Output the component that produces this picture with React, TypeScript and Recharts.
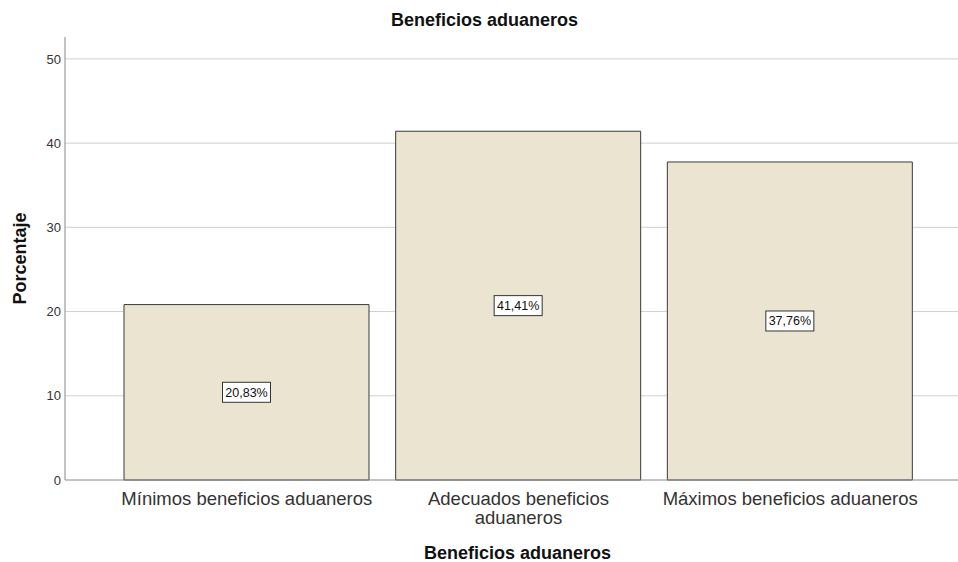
import React from "react";
import { BarChart, Bar, XAxis, YAxis, CartesianGrid, LabelList, Label } from "recharts";

const categories = ["Mínimos beneficios aduaneros", "Adecuados beneficios aduaneros", "Máximos beneficios aduaneros"];
const tickLines = [["Mínimos beneficios aduaneros"], ["Adecuados beneficios", "aduaneros"], ["Máximos beneficios aduaneros"]];
const percentages = [20.83, 41.41, 37.76];
const valueLabels = ["20,83%", "41,41%", "37,76%"];
const yTicks = [0, 10, 20, 30, 40, 50];
const gridValues = [10, 20, 30, 40, 50];

const data = categories.map((name, i) => ({ name, value: percentages[i], label: valueLabels[i] }));

const FONT = "'Liberation Sans', Arial, sans-serif";

function CategoryTick(props: any) {
  const { x, y, payload } = props;
  const lines = tickLines[payload.index] || [payload.value];
  return (
    <text x={x} y={y} textAnchor="middle" fill="#333" fontSize={18.5} fontFamily={FONT}>
      {lines.map((line: string, i: number) => (
        <tspan key={i} x={x} dy={i === 0 ? 17 : 19}>
          {line}
        </tspan>
      ))}
    </text>
  );
}

function ValueBox(props: any) {
  const { x, y, width, height, value } = props;
  const cx = x + width / 2;
  const cy = y + height / 2;
  const w = 48;
  const h = 20;
  return (
    <g>
      <rect x={cx - w / 2} y={cy - h / 2} width={w} height={h} fill="#fff" stroke="#333" strokeWidth={1} />
      <text x={cx} y={cy + 4.5} textAnchor="middle" fontSize={12.5} fontFamily={FONT} fill="#111">
        {value}
      </text>
    </g>
  );
}

export default function App() {
  return (
    <div style={{ position: "absolute", left: 0, top: 0, width: 958, height: 562, background: "#fff", fontFamily: FONT }}>
      <div
        style={{
          position: "absolute",
          top: 10,
          left: 0,
          width: 969,
          textAlign: "center",
          fontWeight: "bold",
          fontSize: 18,
          color: "#111",
        }}
      >
        Beneficios aduaneros
      </div>
      <BarChart width={958} height={562} data={data} margin={{ top: 37, right: 0, left: 0, bottom: 0 }}>
        <CartesianGrid vertical={false} stroke="#cfcfcf" horizontalValues={gridValues} />
        <XAxis
          dataKey="name"
          height={82}
          tickLine={false}
          axisLine={{ stroke: "#888" }}
          padding={{ left: 46, right: 32 }}
          tick={<CategoryTick />}
          interval={0}
        >
          <Label
            value="Beneficios aduaneros"
            position="insideBottom"
            offset={3}
            dx={6}
            style={{ fontWeight: "bold", fontSize: 18, fill: "#111", fontFamily: FONT }}
          />
        </XAxis>
        <YAxis
          width={65}
          domain={[0, 52.6]}
          ticks={yTicks}
          tickLine={false}
          tickSize={4}
          axisLine={{ stroke: "#888" }}
          tick={{ fill: "#333", fontSize: 13, fontFamily: FONT }}
          tickMargin={0}
        >
          <Label
            value="Porcentaje"
            angle={-90}
            position="insideLeft"
            offset={20}
            style={{ textAnchor: "middle", fontWeight: "bold", fontSize: 18, fill: "#111", fontFamily: FONT }}
          />
        </YAxis>
        <Bar dataKey="value" barSize={245} fill="#EAE4D0" stroke="#3a3a3a" strokeWidth={1} isAnimationActive={false}>
          <LabelList dataKey="label" content={<ValueBox />} />
        </Bar>
      </BarChart>
    </div>
  );
}
